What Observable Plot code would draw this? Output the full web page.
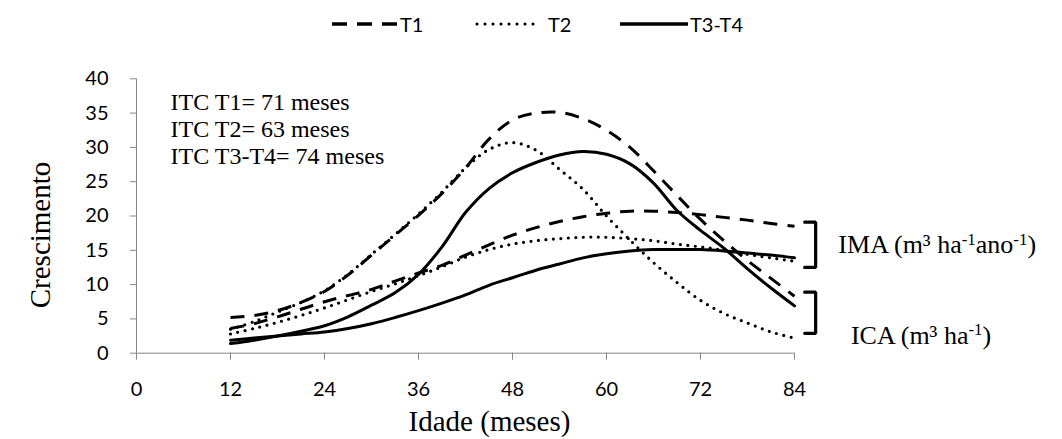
<!DOCTYPE html>
<html><head><meta charset="utf-8">
<script src="https://cdn.jsdelivr.net/npm/d3@7"></script>
<script src="https://cdn.jsdelivr.net/npm/@observablehq/plot@0.6"></script>
<style>
body{margin:0;background:#fff;}
#wrap{width:1062px;height:439px;position:relative;overflow:hidden;background:#fff;}
#legend{position:relative;height:45px;font-family:Lato,sans-serif;font-size:20px;color:#000;}
.item{position:absolute;top:0;height:48px;display:flex;align-items:center;white-space:nowrap;}
.item svg{display:block;}
#chart svg text{fill:#000;}
</style></head><body>
<div id="wrap"><div id="legend"></div><div id="chart"></div></div>
<script>
// ---- data ----
const ages = [12,15,18,21,24,27,30,33,36,39,42,45,48,51,54,57,60,63,66,69,72,75,78,81,84];
const t1ICA = [5.2,5.5,6.2,7.4,9.0,11.4,14.3,17.2,20.1,23.3,27.0,31.2,34.0,35.0,35.1,34.2,32.5,30.0,26.6,23.0,19.5,16.4,13.5,10.9,8.3];
const t2ICA = [3.5,4.6,6.0,7.4,9.1,11.5,14.4,17.3,20.3,23.5,27.0,29.7,30.7,29.6,26.8,23.9,20.0,16.5,13.2,10.3,7.7,5.8,4.4,3.1,2.2];
const t3ICA = [1.4,1.9,2.5,3.2,4.0,5.3,7.0,8.8,11.5,15.5,20.5,24.0,26.3,27.8,28.9,29.4,29.0,27.6,24.8,20.8,17.9,15.3,12.3,9.5,6.9];
const t1IMA = [3.6,4.3,5.3,6.4,7.5,8.4,9.3,10.5,11.7,12.8,14.3,15.8,17.2,18.3,19.2,19.9,20.4,20.7,20.7,20.5,20.2,19.8,19.4,18.9,18.5];
const t2IMA = [2.8,3.6,4.5,5.5,6.6,7.8,9.0,10.1,11.3,12.6,14.0,15.1,15.9,16.4,16.7,16.9,16.9,16.7,16.4,15.9,15.5,15.0,14.4,13.9,13.4];
const t3IMA = [1.9,2.2,2.5,2.8,3.1,3.6,4.3,5.2,6.2,7.3,8.5,9.9,11.0,12.1,13.0,13.9,14.5,14.9,15.1,15.1,15.1,14.9,14.6,14.3,13.9];
const xTicks = [0,12,24,36,48,60,72,84];
const yTicks = [0,5,10,15,20,25,30,35,40];
const treatments = ["T1","T2","T3-T4"];
const itcLines = ["ITC T1= 71 meses","ITC T2= 63 meses","ITC T3-T4= 74 meses"];
const xTitle = "Idade (meses)";
const yTitle = "Crescimento";
// bracket value ranges (IMA, ICA) and label parts
const bracketRanges = [[12.5,19.1],[2.9,8.9]];
const bracketX = [85.3, 86.7];
const imaParts = [["IMA (m³ ha",0],["-1",1],["ano",0],["-1",1],[")",0]];
const icaParts = [["ICA (m³ ha",0],["-1",1],[")",0]];
const labelPos = [[89.6,15.8],[91.2,2.6]];

// ---- styles ----
const dashStyle = {"T1":"14,10","T2":"0,7.5","T3-T4":null};
const capStyle = {"T1":"butt","T2":"round","T3-T4":"round"};
const legendDash = {"T1":"15,10","T2":"0,8","T3-T4":null};

// ---- legend ----
const legend = document.getElementById("legend");
const legendLeft = [332,475,620];
const legendW = [66,65,68];
const legendGap = [2,8,2];
treatments.forEach((t,i)=>{
  const div = document.createElement("div");
  div.className="item"; div.style.left = legendLeft[i]+"px";
  const ns="http://www.w3.org/2000/svg";
  const s=document.createElementNS(ns,"svg");
  s.setAttribute("width",legendW[i]); s.setAttribute("height",10);
  const l=document.createElementNS(ns,"line");
  l.setAttribute("x1", t==="T2"?2:0); l.setAttribute("x2",legendW[i]);
  l.setAttribute("y1",5); l.setAttribute("y2",5);
  l.setAttribute("stroke","#000"); l.setAttribute("stroke-width", t==="T2"?3.2:3.5);
  l.setAttribute("stroke-linecap", t==="T2"?"round":"butt");
  if (legendDash[t]) l.setAttribute("stroke-dasharray",legendDash[t]);
  s.appendChild(l); div.appendChild(s);
  const sp=document.createElement("span"); sp.textContent=t; sp.style.marginLeft=legendGap[i]+"px";
  div.appendChild(sp); legend.appendChild(div);
});

// ---- tidy data ----
const series = [
  ["T1","ICA",t1ICA],["T2","ICA",t2ICA],["T3-T4","ICA",t3ICA],
  ["T1","IMA",t1IMA],["T2","IMA",t2IMA],["T3-T4","IMA",t3IMA]
];
const lineMarks = series.map(([t,k,vals]) => Plot.line(ages.map((a,i)=>({age:a, v:vals[i]})), {
  x:"age", y:"v", stroke:"#000", strokeWidth: t==="T2"?3.2:3,
  strokeDasharray: dashStyle[t] || undefined, strokeLinecap: capStyle[t],
  curve:"catmull-rom"
}));
const bracketRows = bracketRanges.flatMap(([lo,hi],b)=>[
  {b, x:bracketX[0], y:hi},{b, x:bracketX[1], y:hi},{b, x:bracketX[1], y:lo},{b, x:bracketX[0], y:lo}
]);
const labelRows = [imaParts, icaParts].map((parts,i)=>({
  text: parts.map(p=>p[0]).join(""), x: labelPos[i][0], y: labelPos[i][1]
}));

const plot = Plot.plot({
  width:1062, height:394,
  marginLeft:136, marginRight:268, marginTop:33.3, marginBottom:86.3,
  x:{domain:[0,84], ticks:xTicks, tickSize:7, tickPadding:22, label:null},
  y:{domain:[0,40], ticks:yTicks, tickSize:6, tickPadding:22, label:null},
  style:{fontFamily:"Lato, sans-serif", fontSize:"20px", color:"#868686", background:"white", overflow:"visible"},
  marks:[
    Plot.ruleX([0],{stroke:"#868686"}),
    Plot.ruleY([0],{stroke:"#868686"}),
    ...lineMarks,
    Plot.line(bracketRows,{x:"x", y:"y", z:"b", stroke:"#000", strokeWidth:3.2, strokeLinejoin:"miter", curve:"linear"}),
    Plot.text(labelRows,{x:"x", y:"y", text:"text", textAnchor:"start", lineAnchor:"middle",
      fontFamily:"Liberation Serif, Times New Roman, serif", fontSize:26, fill:"#000"}),
    Plot.text([itcLines.join("\n")],{frameAnchor:"top-left", dx:34, dy:11.7, lineAnchor:"top", lineHeight:1.125,
      textAnchor:"start", fontFamily:"Liberation Serif, Times New Roman, serif", fontSize:24, fill:"#000"}),
    Plot.text([xTitle],{frameAnchor:"bottom", dx:24, dy:69, lineAnchor:"middle", textAnchor:"middle",
      fontFamily:"Liberation Serif, Times New Roman, serif", fontSize:29, fill:"#000"}),
    Plot.text([yTitle],{frameAnchor:"left", rotate:-90, dx:-96, dy:19, lineAnchor:"middle", textAnchor:"middle",
      fontFamily:"Liberation Serif, Times New Roman, serif", fontSize:29, fill:"#000"})
  ]
});
document.getElementById("chart").append(plot);

// superscripts for the right-hand labels
[imaParts, icaParts].forEach(parts=>{
  const full = parts.map(p=>p[0]).join("");
  d3.select(plot).selectAll("text").filter(function(){return this.textContent===full;}).each(function(){
    const t=d3.select(this); t.text("");
    let raised=false;
    parts.forEach(([s,sup])=>{
      const ts=t.append("tspan").text(s);
      if (sup){ ts.attr("font-size","65%").attr("dy", raised? null : "-0.5em"); raised=true; }
      else if (raised){ ts.attr("dy","0.325em"); raised=false; }
    });
  });
});
</script>
</body></html>
